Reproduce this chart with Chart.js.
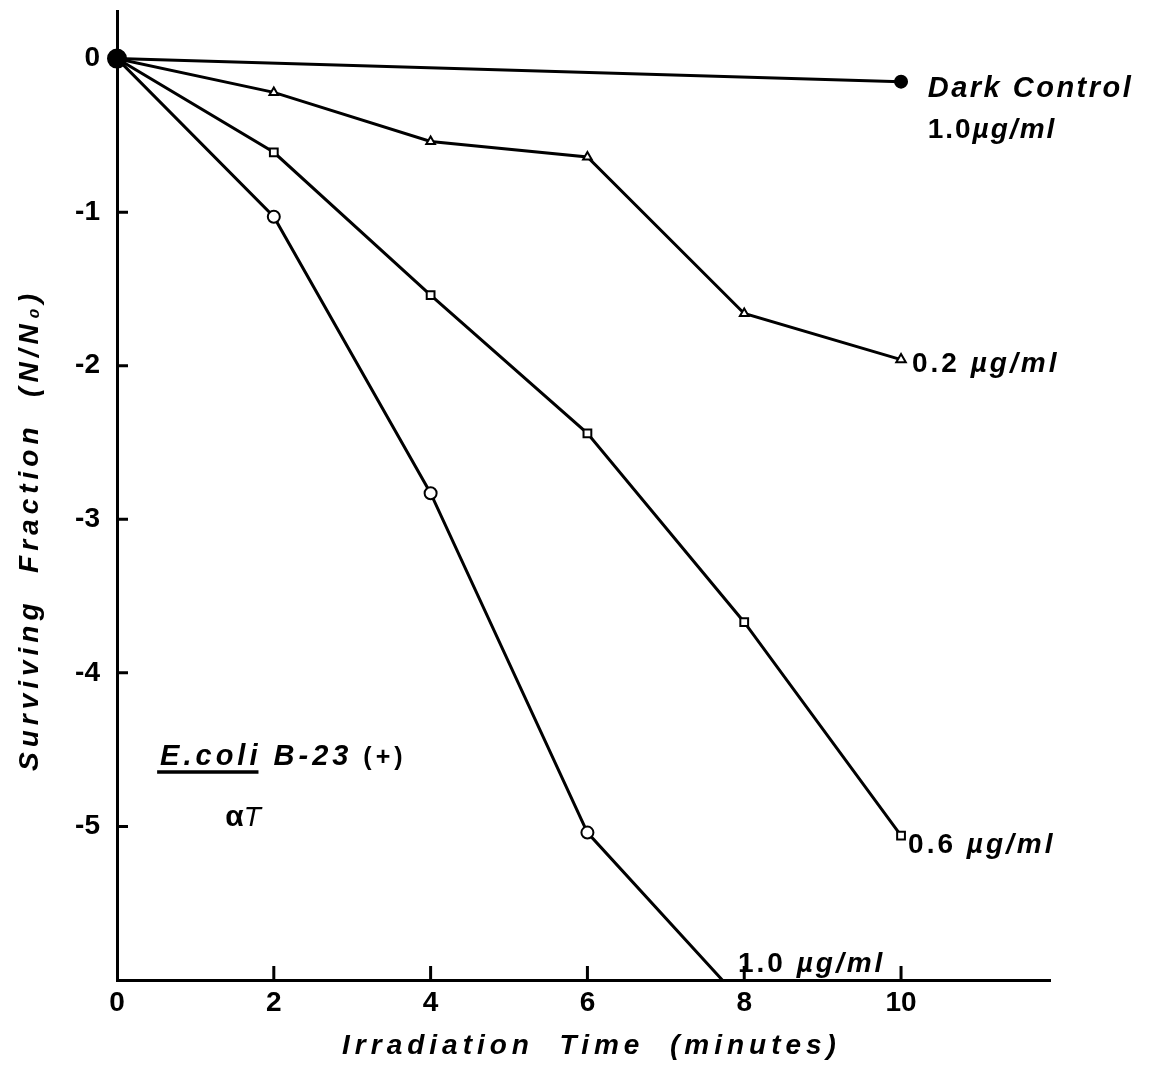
<!DOCTYPE html>
<html>
<head>
<meta charset="utf-8">
<script src="https://cdn.jsdelivr.net/npm/chart.js@4.4.0/dist/chart.umd.min.js"></script>
<style>
  body { margin: 0; background: #fff; }
  #wrap { width: 1164px; height: 1067px; }
</style>
</head>
<body>
<div id="wrap"><canvas id="surviveChart"></canvas></div>
<script>
var times = [0, 2, 4, 6, 8, 10];
var darkTimes = [0, 10];
var darkControl = [0, -0.15];
var dose02 = [0, -0.22, -0.54, -0.64, -1.66, -1.96];
var dose06 = [0, -0.61, -1.54, -2.44, -3.67, -5.06];
var dose10Times = [0, 2, 4, 6, 7.72];
var dose10 = [0, -1.03, -2.83, -5.04, -6];
var xTickLabels = [0, 2, 4, 6, 8, 10];
var yTickLabels = [0, -1, -2, -3, -4, -5];

function toPoints(xs, ys) {
  return xs.map(function (x, i) { return { x: x, y: ys[i] }; });
}

var FONT = '"Liberation Sans", Arial, sans-serif';
var boldUp = 'bold 28px ' + FONT;
var boldIt = 'italic bold 28px ' + FONT;

// draws a row of text pieces, each with its own font
function drawRuns(ctx, x, y, runs, spacing) {
  ctx.save();
  ctx.fillStyle = '#000';
  ctx.textAlign = 'left';
  ctx.textBaseline = 'alphabetic';
  ctx.letterSpacing = spacing + 'px';
  runs.forEach(function (r) {
    ctx.font = r[1];
    ctx.fillText(r[0], x, y);
    x += ctx.measureText(r[0]).width;
  });
  ctx.restore();
  return x;
}

var paperPlugin = {
  id: 'paper',
  beforeDraw: function (chart) {
    var ctx = chart.ctx;
    ctx.save();
    ctx.fillStyle = '#fff';
    ctx.fillRect(0, 0, chart.width, chart.height);
    ctx.restore();
  },
  afterDraw: function (chart) {
    var ctx = chart.ctx;
    var xs = chart.scales.x, ys = chart.scales.y;
    var area = chart.chartArea;

    // tick marks pointing inwards
    ctx.save();
    ctx.strokeStyle = '#000';
    ctx.lineWidth = 3;
    ctx.beginPath();
    xTickLabels.forEach(function (v) {
      if (v === 0) return;
      var px = xs.getPixelForValue(v);
      ctx.moveTo(px, area.bottom);
      ctx.lineTo(px, area.bottom - 14);
    });
    yTickLabels.forEach(function (v) {
      if (v === 0) return;
      var py = ys.getPixelForValue(v);
      ctx.moveTo(area.left, py);
      ctx.lineTo(area.left + 11, py);
    });
    ctx.stroke();
    ctx.restore();

    // axis titles
    ctx.save();
    ctx.fillStyle = '#000';
    ctx.font = 'italic bold 28px ' + FONT;
    ctx.letterSpacing = '5px';
    ctx.textAlign = 'center';
    ctx.textBaseline = 'middle';
    ctx.fillText('Irradiation  Time  (minutes)', (area.left + area.right) / 2 + 8, 1046);
    ctx.translate(30, 530);
    ctx.rotate(-Math.PI / 2);
    ctx.fillText('Surviving  Fraction  (N/N\u2080)', 0, 0);
    ctx.restore();

    // curve labels placed in data units
    function at(x, y) { return [xs.getPixelForValue(x), ys.getPixelForValue(y)]; }
    var p;
    p = at(10.34, -0.25);
    drawRuns(ctx, p[0], p[1], [['Dark Control', 'italic bold 29px ' + FONT]], 2.5);
    p = at(10.34, -0.52);
    drawRuns(ctx, p[0], p[1], [['1.0', boldUp], ['\u00b5g/ml', boldIt]], 2);
    p = at(10.14, -2.04);
    drawRuns(ctx, p[0], p[1], [['0.2 ', boldUp], ['\u00b5g/ml', boldIt]], 3);
    p = at(10.09, -5.17);
    drawRuns(ctx, p[0], p[1], [['0.6 ', boldUp], ['\u00b5g/ml', boldIt]], 3);
    p = at(7.92, -5.95);
    drawRuns(ctx, p[0], p[1], [['1.0 ', boldUp], ['\u00b5g/ml', boldIt]], 3);

    // organism note
    p = at(0.55, -4.6);
    var noteFont = 'italic bold 29px ' + FONT;
    ctx.save();
    ctx.font = noteFont;
    ctx.letterSpacing = '4px';
    var w = ctx.measureText('E.coli').width;
    ctx.restore();
    drawRuns(ctx, p[0], p[1], [['E.coli', noteFont], [' B-23', noteFont], [' (+)', 'bold 25px ' + FONT]], 4);
    ctx.save();
    ctx.strokeStyle = '#000';
    ctx.lineWidth = 3.5;
    ctx.beginPath();
    ctx.moveTo(p[0] - 3, p[1] + 7);
    ctx.lineTo(p[0] + w - 3, p[1] + 7);
    ctx.stroke();
    ctx.restore();
    p = at(1.38, -5.0);
    drawRuns(ctx, p[0], p[1], [['\u03b1', 'bold 30px ' + FONT], ['T', 'italic 28px ' + FONT]], 0);
  }
};

var lineStyle = {
  borderColor: '#000',
  borderWidth: 3,
  showLine: true,
  tension: 0,
  pointBorderColor: '#000',
  pointBorderWidth: 2,
  pointBackgroundColor: '#fff'
};

// keep the plot box fixed: no extra room for the end tick labels
function fixBox(size) {
  return function (scale) {
    if (scale.isHorizontal()) { scale.height = size; } else { scale.width = size; }
    scale.paddingTop = 0;
    scale.paddingBottom = 0;
    scale.paddingLeft = 0;
    scale.paddingRight = 0;
  };
}

var tickFont = { family: FONT, size: 28, weight: 'bold' };

var surviveCtx = document.getElementById('surviveChart').getContext('2d');
var surviveChart = new Chart(surviveCtx, {
  type: 'scatter',
  data: {
    datasets: [
      Object.assign({}, lineStyle, {
        label: 'Dark Control 1.0 \u00b5g/ml',
        data: toPoints(darkTimes, darkControl),
        pointStyle: 'circle',
        pointRadius: [9, 6],
        pointBackgroundColor: '#000',
        clip: false
      }),
      Object.assign({}, lineStyle, {
        label: '0.2 \u00b5g/ml',
        data: toPoints(times, dose02),
        pointStyle: 'triangle',
        pointRadius: [0, 5, 5, 5, 5, 5.5]
      }),
      Object.assign({}, lineStyle, {
        label: '0.6 \u00b5g/ml',
        data: toPoints(times, dose06),
        pointStyle: 'rect',
        pointRadius: [0, 5.5, 5.5, 5.5, 5.5, 5.5]
      }),
      Object.assign({}, lineStyle, {
        label: '1.0 \u00b5g/ml',
        data: toPoints(dose10Times, dose10),
        pointStyle: 'circle',
        pointRadius: [0, 6, 6, 6, 0]
      })
    ]
  },
  options: {
    responsive: true,
    maintainAspectRatio: false,
    animation: false,
    layout: { padding: { top: 10, right: 114, left: 0, bottom: 0 } },
    plugins: {
      legend: { display: false },
      tooltip: { enabled: false }
    },
    scales: {
      x: {
        type: 'linear',
        min: 0,
        max: 11.9,
        afterFit: fixBox(87),
        grid: { display: false, drawTicks: false },
        border: { display: true, color: '#000', width: 3 },
        ticks: {
          stepSize: 2,
          includeBounds: false,
          padding: 6,
          color: '#000',
          font: tickFont,
          callback: function (v) { return xTickLabels.indexOf(v) >= 0 ? String(v) : ''; }
        }
      },
      y: {
        type: 'linear',
        min: -6,
        max: 0.31,
        afterFit: fixBox(117),
        grid: { display: false, drawTicks: false },
        border: { display: true, color: '#000', width: 3 },
        ticks: {
          stepSize: 1,
          includeBounds: false,
          padding: 17,
          color: '#000',
          font: tickFont,
          callback: function (v) { return yTickLabels.indexOf(v) >= 0 ? String(v) : ''; }
        }
      }
    }
  },
  plugins: [paperPlugin]
});
</script>
</body>
</html>
